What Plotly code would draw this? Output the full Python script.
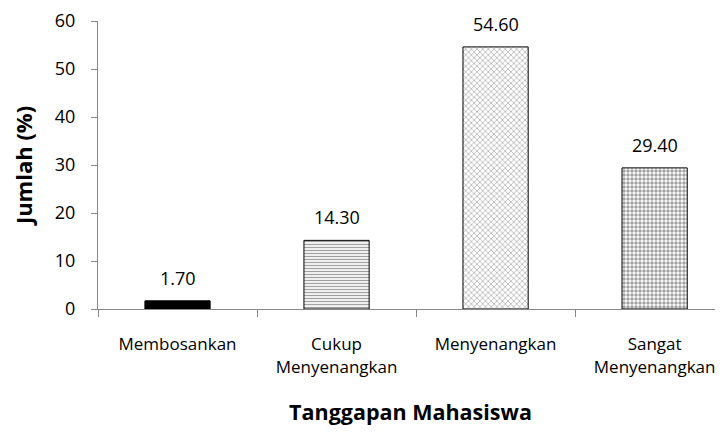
import plotly.graph_objects as go

categories = ["Membosankan", "Cukup<br>Menyenangkan", "Menyenangkan", "Sangat<br>Menyenangkan"]
values = [1.70, 14.30, 54.60, 29.40]
value_labels = ["1.70", "14.30", "54.60", "29.40"]

pattern_shapes = ["", "-", "x", "."]
pattern_fg = ["black", "black", "#7a7a7a", "black"]
pattern_size = [4, 3, 4, 4]
pattern_solidity = [0.3, 0.45, 0.3, 0.6]

fig = go.Figure(go.Bar(
    x=categories,
    y=values,
    width=0.41,
    marker=dict(
        color=["black", "white", "white", "white"],
        line=dict(color="black", width=1),
        pattern=dict(shape=pattern_shapes, fgcolor=pattern_fg, bgcolor="white",
                     size=pattern_size, solidity=pattern_solidity, fillmode="overlay"),
    ),
))

for c, v, t in zip(categories, values, value_labels):
    fig.add_annotation(x=c, y=v, text=t, showarrow=False, yanchor="bottom",
                       yshift=9, font=dict(size=18, color="black", family="Open Sans"))

fig.update_layout(
    width=715, height=419,
    margin=dict(l=90, r=0, t=7, b=118),
    plot_bgcolor="white", paper_bgcolor="white",
    font=dict(family="Open Sans", size=18, color="black"),
    showlegend=False,
)
fig.update_xaxes(
    range=[-0.5, 3.43],
    showline=True, linecolor="#888888", linewidth=1,
    ticks="outside", tickson="boundaries", ticklen=7, tickcolor="#888888",
    tickfont=dict(size=17), ticklabelstandoff=20, ticklabeloverflow="allow",
    title=dict(text="<b>Tanggapan Mahasiswa</b>", font=dict(size=21.5), standoff=28),
    showgrid=False,
)
fig.update_yaxes(
    range=[0, 60], dtick=10,
    showline=True, linecolor="#888888", linewidth=1,
    ticks="outside", ticklen=6, tickcolor="#888888",
    tickfont=dict(size=18), ticklabelstandoff=12, ticklabeloverflow="allow",
    title=dict(text="<b>Jumlah (%)</b>", font=dict(size=22), standoff=20),
    showgrid=False, zeroline=False,
)

fig.write_html("out.html")
